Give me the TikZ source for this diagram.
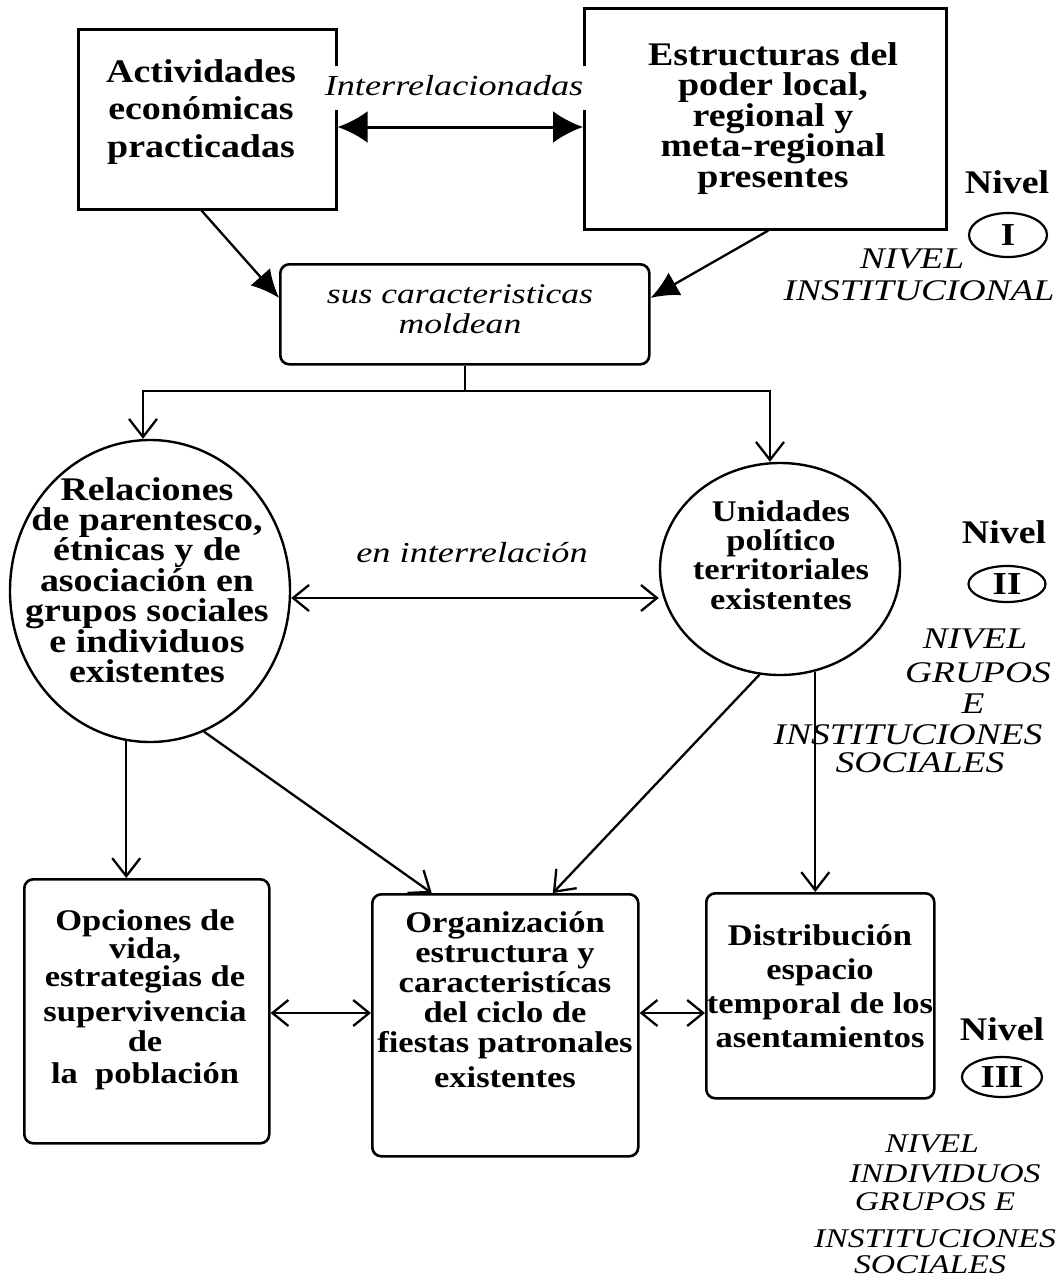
\documentclass[tikz,border=0pt]{standalone}
\usepackage{fontspec}
\setmainfont{Liberation Serif}
\newfontfamily\bfam{Liberation Serif}[FakeStretch=1.15]
\newfontfamily\ifam{Liberation Serif}[FakeStretch=1.25]
\usetikzlibrary{shapes.geometric,arrows.meta,calc}
\newcommand\tl{\rule{0pt}{0.8em}}
\begin{document}
\begin{tikzpicture}[x=1pt,y=-1pt,
  box/.style={draw,line width=2.6pt,anchor=north west,inner sep=0pt},
  rbox/.style={box,rounded corners=9pt},
  oval/.style={draw,ellipse,line width=2.4pt,inner sep=0pt},
  txt/.style={inner sep=0pt,align=center,anchor=north},
  bt/.style 2 args={txt,font=\bfam\bfseries\fontsize{#1}{#2}\selectfont},
  itx/.style 2 args={txt,font=\ifam\itshape\fontsize{#1}{#2}\selectfont},
  lab/.style={inner sep=0pt,anchor=base,font=\ifam\itshape\fontsize{#1}{#1}\selectfont},
  nv/.style={inner sep=0pt,anchor=base,font=\bfam\bfseries\fontsize{33}{33}\selectfont},
  lvl/.style={draw,ellipse,line width=2.2pt,inner sep=0pt,font=\bfam\bfseries\fontsize{32}{32}\selectfont},
  ln/.style={line width=2.3pt},
  vee/.style={ln,-{Straight Barb[length=18pt,width=28pt]}},
  dvee/.style={ln,{Straight Barb[length=16pt,width=26pt]}-{Straight Barb[length=16pt,width=26pt]}},
  fil/.style={ln,-{Latex[length=28pt,width=26pt]}},
  dfil/.style={line width=3pt,{Latex[length=30pt,width=32pt]}-{Latex[length=30pt,width=32pt]}},
]
\useasboundingbox (0,0) rectangle (1062,1285);

% boxes
\node[box,minimum width=258pt,minimum height=180pt] (A) at (77,28) {};
\node[box,minimum width=362pt,minimum height=221pt] (B) at (583,7) {};
\node[rbox,minimum width=369pt,minimum height=100pt] (C) at (279,263) {};
\node[rbox,minimum width=245pt,minimum height=264pt] (D) at (23,878) {};
\node[rbox,minimum width=266pt,minimum height=262pt] (E) at (371,893) {};
\node[rbox,minimum width=228pt,minimum height=205pt] (F) at (705,892) {};
\node[oval,minimum width=280pt,minimum height=302pt] (L) at (150,591) {};
\node[oval,minimum width=240pt,minimum height=212pt] (R) at (780,569) {};

% texts
\node[bt={33}{37.5}] (At) at (201,55.6) {\tl Actividades\\económicas\\practicadas};
\node[bt={33}{30.5}] (Bt) at (773,38.6) {\tl Estructuras del\\poder local,\\regional y\\meta-regional\\presentes};
\node[itx={28.5}{30}] (Ct) at (460,280.2) {\tl sus caracteristicas\\moldean};
\node[bt={33}{30}] (Lt) at (147,473.6) {\tl Relaciones\\de parentesco,\\étnicas y de\\asociación en\\grupos sociales\\e individuos\\existentes};
\node[bt={30}{29.3}] (Rt) at (781,497) {\tl Unidades\\político\\territoriales\\existentes};
\node[bt={30}{30}] (Dt) at (145,906) {\tl Opciones de\\[-2pt]vida,\\[-2pt]estrategias de\\[5pt]supervivencia\\de\\[2pt]la\ \ población};
\node[bt={30}{30}] (Et) at (505,908) {\tl Organización\\estructura y\\caracteristícas\\del ciclo de\\fiestas patronales\\[5pt]existentes};
\node[bt={30}{34}] (Ft) at (820,921) {\tl Distribución\\espacio\\temporal de los\\asentamientos};

% connector labels
\node[lab=29,fill=white,text height=22pt,text depth=8pt,inner ysep=7pt,inner xsep=3pt] (l1) at (454,95) {Interrelacionadas};
\node[lab=29] (l2) at (472,562) {en interrelación};

% connectors
\coordinate (t1) at (454,127);
\draw[dfil] (t1 -| A.east) -- (t1 -| B.west);
\draw[fil] ($(A.south west)!0.478!(A.south east)$) -- ($(C.north west)!0.34!(C.south west)$);
\draw[fil] ($(B.south west)!0.508!(B.south east)$) -- ($(C.north east)!0.34!(C.south east)$);
\coordinate (jl) at (143,391);
\coordinate (jr) at (770,391);
\draw[vee] (C.south) -- (C.south |- jl) -- (jl) -- (jl |- L.north);
\draw[vee] (C.south |- jl) -- (jr) -- (jr |- R.north);
\coordinate (m) at (472,598);
\draw[dvee] (m -| L.east) -- (m -| R.west);
\draw[vee] (L.261) -- (L.261 |- D.north);
\draw[vee] (L.291) -- ($(E.north west)!0.226!(E.north east)$);
\draw[vee] (R.259) -- ($(E.north west)!0.677!(E.north east)$);
\draw[vee] (R.289) -- (R.289 |- F.north);
\coordinate (b) at (500,1013);
\draw[dvee] (b -| D.east) -- (b -| E.west);
\draw[dvee] (b -| E.east) -- (b -| F.west);

% level I
\node[nv] (n1) at (1007,193) {Nivel};
\node[lvl,minimum width=78pt,minimum height=44pt] (c1) at (1008,235) {I};
\node[lab=30] (i1a) at (912,268) {NIVEL};
\node[lab=30] (i1b) at (919,300) {INSTITUCIONAL};

% level II
\node[nv] (n2) at (1004,543) {Nivel};
\node[lvl,minimum width=77pt,minimum height=36pt] (c2) at (1007,584) {II};
\node[lab=30] (i2a) at (975,648) {NIVEL};
\node[lab=30] (i2b) at (978,682) {GRUPOS};
\node[lab=30] (i2c) at (973,713) {E};
\node[lab=30] (i2d) at (908,744) {INSTITUCIONES};
\node[lab=30] (i2e) at (920,772) {SOCIALES};

% level III
\node[nv] (n3) at (1002,1040) {Nivel};
\node[lvl,minimum width=80pt,minimum height=40pt] (c3) at (1002,1077) {III};
\node[lab=27] (i3a) at (932,1152) {NIVEL};
\node[lab=27] (i3b) at (945,1182) {INDIVIDUOS};
\node[lab=27] (i3c) at (935,1210) {GRUPOS E};
\node[lab=27] (i3d) at (935,1247) {INSTITUCIONES};
\node[lab=27] (i3e) at (930,1273) {SOCIALES};
\end{tikzpicture}
\end{document}
